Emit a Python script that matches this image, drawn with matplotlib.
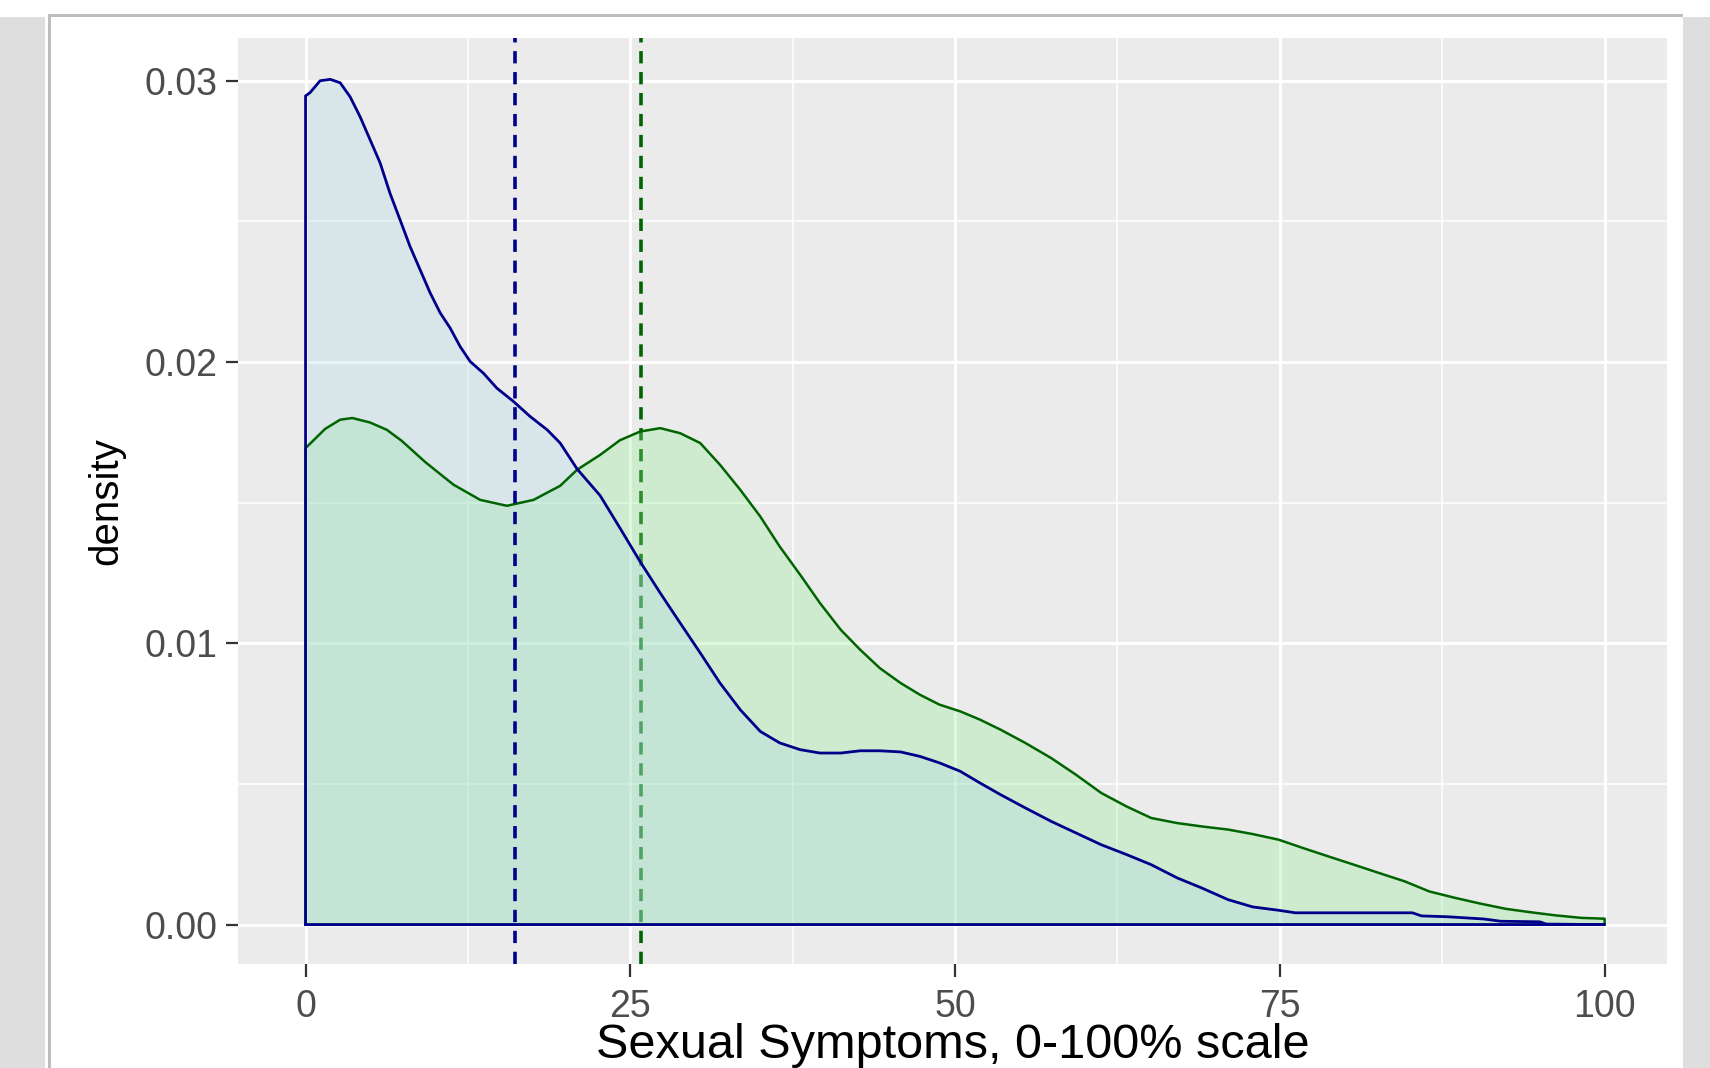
import matplotlib
matplotlib.use('Agg')
from matplotlib import pyplot as plt
from matplotlib.patches import Rectangle

plt.rcParams['font.family'] = ['Liberation Sans', 'DejaVu Sans']

# density curve of group 1 (blue)
BLUE_X = [0, 0.35, 1.12, 1.9, 2.66, 3.43, 4.2, 4.97, 5.74, 6.5, 7.28, 8.05, 8.82, 9.59,
          10.36, 11.13, 11.9, 12.67, 13.7, 14.73, 16.0, 17.3, 18.6, 19.6, 20.9, 22.68,
          24.2, 25.76, 27.3, 28.84, 30.38, 31.9, 33.46, 35.0, 36.5, 38.07, 39.6, 41.2,
          42.7, 44.2, 45.8, 47.3, 48.8, 50.4, 51.9, 53.5, 55.4, 57.4, 59.3, 61.25, 63.2,
          65.1, 67.1, 69.0, 71.0, 72.9, 74.9, 76.2, 80.0, 85.2, 85.9, 87.9, 90.7, 92.0,
          95.0, 95.5, 100]
BLUE_Y = [0.02946, 0.02958, 0.0300, 0.03005, 0.02993, 0.02943, 0.02872, 0.0279, 0.02708,
          0.0260, 0.02505, 0.0241, 0.02328, 0.02246, 0.02175, 0.02121, 0.02055, 0.02002,
          0.0196, 0.01907, 0.0186, 0.01806, 0.01759, 0.01712, 0.0162, 0.01525, 0.0141,
          0.0129, 0.01179, 0.01072, 0.00966, 0.00859, 0.00764, 0.00687, 0.00646, 0.00622,
          0.0061, 0.0061, 0.00618, 0.00618, 0.00614, 0.00598, 0.00575, 0.00545, 0.00504,
          0.00462, 0.00415, 0.00367, 0.00326, 0.00284, 0.00249, 0.00213, 0.00166, 0.0013,
          0.00089, 0.00063, 0.00051, 0.00042, 0.00042, 0.00042, 0.00031, 0.00028, 0.0002,
          0.00012, 0.0001, 0.00002, 0.0]

# density curve of group 2 (green)
GREEN_X = [0, 1.5, 2.66, 3.6, 4.97, 6.26, 7.4, 9.2, 10.6, 11.39, 13.44, 15.5, 17.55, 19.6,
           20.9, 22.68, 24.2, 25.76, 27.3, 28.84, 30.38, 31.9, 33.46, 35.0, 36.5, 38.07,
           39.6, 41.2, 42.7, 44.2, 45.8, 47.3, 48.8, 50.4, 51.9, 53.5, 55.4, 57.4, 59.3,
           61.25, 63.2, 65.1, 67.1, 69.0, 71.0, 72.9, 74.9, 76.8, 78.7, 80.7, 82.6, 84.6,
           86.5, 88.5, 90.4, 92.4, 94.3, 96.2, 98.2, 100]
GREEN_Y = [0.01694, 0.01762, 0.01795, 0.01801, 0.01785, 0.01759, 0.0172, 0.01645, 0.01593,
           0.01564, 0.0151, 0.01489, 0.0151, 0.0156, 0.01617, 0.0167, 0.01722, 0.01753,
           0.01765, 0.01747, 0.01712, 0.01635, 0.01546, 0.01451, 0.01344, 0.01244, 0.01143,
           0.01048, 0.00977, 0.00912, 0.00859, 0.00817, 0.00782, 0.00758, 0.00729, 0.00693,
           0.00646, 0.00592, 0.00533, 0.00468, 0.0042, 0.00379, 0.00361, 0.00349, 0.00338,
           0.00322, 0.00302, 0.00272, 0.00243, 0.00213, 0.00184, 0.00154, 0.00118, 0.00095,
           0.00075, 0.00056, 0.00044, 0.00033, 0.00024, 0.00021]

BLUE_MEAN = 16.1
GREEN_MEAN = 25.8

X_TICKS = [0, 25, 50, 75, 100]
Y_TICKS = [0.00, 0.01, 0.02, 0.03]
Y_TICK_LABELS = ['0.00', '0.01', '0.02', '0.03']

W, H = 1710, 1068
fig = plt.figure(figsize=(W / 100, H / 100), dpi=100)
fig.patch.set_facecolor('white')

# window frame around the plot (screenshot look)
def fig_rect(x0, y0, x1, y1, color):
    fig.patches.append(Rectangle((x0 / W, 1 - y1 / H), (x1 - x0) / W, (y1 - y0) / H,
                                 transform=fig.transFigure, facecolor=color,
                                 edgecolor='none', zorder=0))

fig_rect(0, 17, 45, H, '#dedede')
fig_rect(1683, 17, W, H, '#dedede')
fig_rect(48, 14, 1683, 17, '#bdbdbd')
fig_rect(48, 14, 51, H, '#bdbdbd')

ax = fig.add_axes([238 / W, 1 - 964 / H, (1667 - 238) / W, (964 - 38) / H])
ax.set_facecolor('#ebebeb')
for s in ax.spines.values():
    s.set_visible(False)

ax.set_xlim(-5.2, 104.8)
ax.set_ylim(-0.00140, 0.03152)
ax.set_xticks(X_TICKS)
ax.set_xticks([12.5, 37.5, 62.5, 87.5], minor=True)
ax.set_yticks(Y_TICKS)
ax.set_yticklabels(Y_TICK_LABELS)
ax.set_yticks([0.005, 0.015, 0.025], minor=True)
ax.grid(which='major', color='white', lw=2.2)
ax.grid(which='minor', color='white', lw=1.1)
ax.set_axisbelow(True)
ax.tick_params(which='major', length=9, width=1.6, color='#333333',
               labelcolor='#4d4d4d', labelsize=27)
ax.tick_params(axis='x', pad=9)
ax.tick_params(axis='y', pad=6)
ax.tick_params(which='minor', length=0)

# mean lines
ax.axvline(GREEN_MEAN, color='#006400', lw=2.6, dashes=(3.4, 2.4), zorder=2)

gx = [0] + GREEN_X + [100, 0]
gy = [0] + GREEN_Y + [0, 0]
bx = [0] + BLUE_X + [100, 0]
by = [0] + BLUE_Y + [0, 0]
ax.fill(gx, gy, facecolor=(0.565, 0.933, 0.565, 0.3), edgecolor='none', zorder=3)
ax.fill(bx, by, facecolor=(0.678, 0.847, 0.902, 0.3), edgecolor='none', zorder=3.1)
ax.plot(gx, gy, color='#006400', lw=1.8, zorder=4)
ax.plot(bx, by, color='#00008b', lw=2.0, zorder=4.1)

ax.axvline(BLUE_MEAN, color='#00008b', lw=2.6, dashes=(3.4, 2.4), zorder=5)

ax.set_xlabel('Sexual Symptoms, 0-100% scale', fontsize=35, color='black', va='baseline')
ax.xaxis.set_label_coords(0.5, -0.101)
ax.set_ylabel('density', fontsize=29, color='black', va='center', ha='center')
ax.yaxis.set_label_coords(-0.092, 0.5)

fig.savefig('out.png', dpi=100)
